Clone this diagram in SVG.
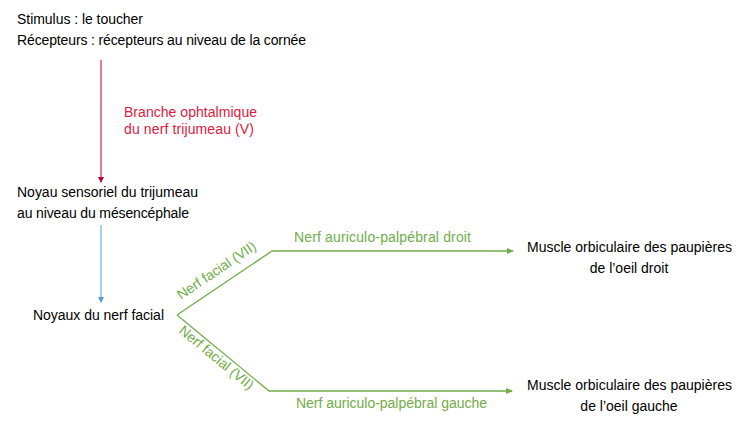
<svg xmlns="http://www.w3.org/2000/svg" width="753" height="431" viewBox="0 0 753 431">
<style>
text{font-family:"Liberation Sans",Arial,sans-serif;font-size:14px;fill:#000}
.r{fill:#E0193F}
.g{fill:#70AD47}
.lr{stroke:#C00030;stroke-width:1;fill:none}
.lb{stroke:#5B9BD5;stroke-width:1;fill:none}
.lg{stroke:#70AD47;stroke-width:1.3;fill:none}
</style>
<defs>
<marker id="mr" markerWidth="6" markerHeight="6" refX="5" refY="3" orient="auto" markerUnits="userSpaceOnUse"><path d="M0,0 L6,3 L0,6 z" fill="#C00030"/></marker>
<marker id="mb" markerWidth="6" markerHeight="6" refX="5" refY="3" orient="auto" markerUnits="userSpaceOnUse"><path d="M0,0 L6,3 L0,6 z" fill="#5B9BD5"/></marker>
<marker id="mg" markerWidth="7" markerHeight="6" refX="6" refY="3" orient="auto" markerUnits="userSpaceOnUse"><path d="M0,0 L7,3 L0,6 z" fill="#70AD47"/></marker>
</defs>
<g id="connectors">
<line class="lr" x1="101" y1="60" x2="101" y2="182" marker-end="url(#mr)"/>
<line class="lb" x1="101" y1="225" x2="101" y2="302" marker-end="url(#mb)"/>
<polyline class="lg" points="177,315 272,251 513,251" marker-end="url(#mg)"/>
<polyline class="lg" points="177,315 269,391 512,391" marker-end="url(#mg)"/>
<text class="r" x="124" y="117" textLength="133">Branche ophtalmique</text>
<text class="r" x="124" y="134" textLength="130">du nerf trijumeau (V)</text>
<text class="g" x="294" y="242" textLength="177">Nerf auriculo-palpébral droit</text>
<text class="g" x="296" y="408" textLength="191">Nerf auriculo-palpébral gauche</text>
<text class="g" transform="translate(181,300) rotate(-34)" textLength="92">Nerf facial (VII)</text>
<text class="g" transform="translate(178,332) rotate(39.5)" textLength="92">Nerf facial (VII)</text>
</g>
<g id="stimulus">
<text x="17" y="24" textLength="126">Stimulus : le toucher</text>
<text x="17" y="45" textLength="289">Récepteurs : récepteurs au niveau de la cornée</text>
</g>
<g id="noyau-sensoriel">
<text x="17" y="197" textLength="181">Noyau sensoriel du trijumeau</text>
<text x="17" y="218" textLength="172">au niveau du mésencéphale</text>
</g>
<g id="noyaux-facial">
<text x="33" y="320" textLength="131">Noyaux du nerf facial</text>
</g>
<g id="muscle-droit">
<text x="527" y="252" textLength="205">Muscle orbiculaire des paupières</text>
<text x="629" y="273" text-anchor="middle">de l’oeil droit</text>
</g>
<g id="muscle-gauche">
<text x="527" y="390" textLength="205">Muscle orbiculaire des paupières</text>
<text x="629" y="411" text-anchor="middle">de l’oeil gauche</text>
</g>
</svg>
